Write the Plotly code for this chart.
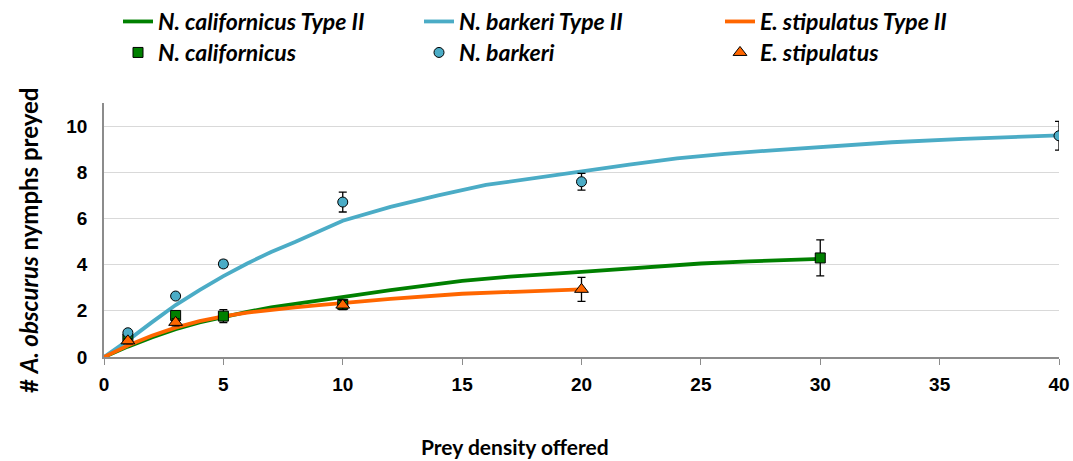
import plotly.graph_objects as go

# Observed means and standard errors (prey density offered vs. nymphs preyed)
nc_density = [1, 3, 5, 10, 30]
nc_preyed = [0.78, 1.8, 1.77, 2.28, 4.29]
nc_err = [0.1, 0.1, 0.28, 0.15, 0.78]

nb_density = [1, 3, 5, 10, 20, 40]
nb_preyed = [1.05, 2.64, 4.03, 6.71, 7.59, 9.58]
nb_err = [0.1, 0.1, 0.15, 0.43, 0.36, 0.62]

es_density = [1, 3, 10, 20]
es_preyed = [0.7, 1.5, 2.25, 2.93]
es_err = [0.1, 0.15, 0.2, 0.52]

# Fitted Type II functional response curves
nc_fit_x = [0, 1, 2, 3, 4, 5, 6, 7, 8, 9, 10, 12, 15, 17, 20, 22, 25, 27, 30]
nc_fit_y = [0, 0.45, 0.85, 1.2, 1.5, 1.74, 1.95, 2.15, 2.3, 2.45, 2.6, 2.9, 3.3,
            3.48, 3.69, 3.85, 4.05, 4.14, 4.25]

nb_fit_x = [0, 1, 2, 3, 4, 5, 6, 7, 8, 9, 10, 12, 14, 16, 18, 20, 22, 24, 26,
            28, 30, 33, 36, 40]
nb_fit_y = [0, 0.72, 1.5, 2.25, 2.9, 3.5, 4.05, 4.55, 4.98, 5.42, 5.9, 6.5, 7.0,
            7.45, 7.75, 8.02, 8.33, 8.6, 8.8, 8.95, 9.1, 9.3, 9.45, 9.6]

es_fit_x = [0, 1, 2, 3, 4, 5, 6, 7, 8, 9, 10, 12, 15, 17, 20]
es_fit_y = [0, 0.5, 0.92, 1.27, 1.55, 1.76, 1.92, 2.05, 2.15, 2.25, 2.35, 2.52,
            2.74, 2.83, 2.93]

GREEN = "#008000"
BLUE = "#4bacc6"
ORANGE = "#ff6600"
TEXT_FONT = "Lato, Open Sans, sans-serif"

fig = go.Figure()

for name, xs, ys, col in [
    ("N. californicus Type II", nc_fit_x, nc_fit_y, GREEN),
    ("N. barkeri Type II", nb_fit_x, nb_fit_y, BLUE),
    ("E. stipulatus Type II", es_fit_x, es_fit_y, ORANGE),
]:
    fig.add_trace(go.Scatter(x=xs, y=ys, mode="lines", name=name,
                             line=dict(color=col, width=3.8), legend="legend"))

for name, xs, ys, err, col, sym, size in [
    ("N. californicus", nc_density, nc_preyed, nc_err, GREEN, "square", 10),
    ("N. barkeri", nb_density, nb_preyed, nb_err, BLUE, "circle", 10),
    ("E. stipulatus", es_density, es_preyed, es_err, ORANGE, "triangle-up", 12),
]:
    fig.add_trace(go.Scatter(
        x=xs, y=ys, mode="markers", name=name, legend="legend2",
        marker=dict(color=col, symbol=sym, size=size,
                    line=dict(color="black", width=1)),
        error_y=dict(type="data", array=err, color="black",
                     thickness=1.3, width=4),
    ))

legend_common = dict(
    orientation="h", xref="container", yref="container",
    xanchor="left", yanchor="top", x=118 / 1073,
    font=dict(size=23, style="italic", weight="bold", family=TEXT_FONT),
    entrywidth=256, entrywidthmode="pixels", itemwidth=30,
    traceorder="normal", bgcolor="rgba(0,0,0,0)",
)

fig.update_layout(
    width=1073, height=461,
    margin=dict(l=104, r=14, t=103, b=104, autoexpand=False),
    plot_bgcolor="white", paper_bgcolor="white",
    font=dict(family="Liberation Sans, Arial, sans-serif", color="black"),
    showlegend=True,
    legend=dict(legend_common, y=1 - 0 / 461),
    legend2=dict(legend_common, y=1 - 31 / 461),
    xaxis=dict(
        range=[0, 40], tickvals=[0, 5, 10, 15, 20, 25, 30, 35, 40],
        showgrid=False, zeroline=False, automargin=False,
        showline=True, linecolor="#8c8c8c", linewidth=1.5,
        ticks="outside", ticklen=6, tickcolor="#8c8c8c",
        tickfont=dict(size=19, weight="bold"), ticklabelstandoff=3,
    ),
    yaxis=dict(
        range=[0, 11], tickvals=[0, 2, 4, 6, 8, 10],
        showgrid=True, gridcolor="#d9d9d9", gridwidth=1.2, zeroline=False,
        automargin=False,
        showline=True, linecolor="#8c8c8c", linewidth=1.5,
        ticks="", tickfont=dict(size=19, weight="bold"),
        ticklabelstandoff=11,
    ),
    annotations=[
        dict(text="<b>Prey density offered</b>", xref="paper", yref="paper",
             x=(515 - 104) / 955, y=-(446 - 357) / 254, xanchor="center",
             yanchor="middle", showarrow=False,
             font=dict(size=21, family=TEXT_FONT)),
        dict(text="<b># <i>A. obscurus</i> nymphs preyed</b>", xref="paper",
             yref="paper", x=-(104 - 29) / 955, y=(357 - 241) / 254,
             xanchor="center", yanchor="middle", textangle=-90,
             showarrow=False, font=dict(size=24, family=TEXT_FONT)),
    ],
)

fig.write_html("out.html")
